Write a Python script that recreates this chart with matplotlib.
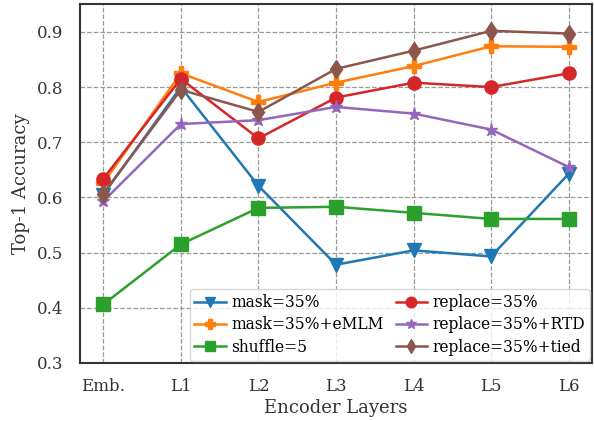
import matplotlib
matplotlib.use("Agg")
import matplotlib.pyplot as plt

layers = ["Emb.", "L1", "L2", "L3", "L4", "L5", "L6"]

mask35 = [0.605, 0.800, 0.621, 0.478, 0.504, 0.493, 0.643]
mask35_emlm = [0.626, 0.825, 0.773, 0.808, 0.838, 0.874, 0.873]
shuffle5 = [0.406, 0.515, 0.581, 0.583, 0.572, 0.561, 0.561]
replace35 = [0.634, 0.815, 0.707, 0.781, 0.808, 0.800, 0.825]
replace35_rtd = [0.593, 0.733, 0.740, 0.764, 0.752, 0.723, 0.655]
replace35_tied = [0.607, 0.795, 0.755, 0.833, 0.866, 0.902, 0.897]

series = [
    ("mask=35%", mask35, "#1f77b4", "v"),
    ("mask=35%+eMLM", mask35_emlm, "#ff7f0e", "P"),
    ("shuffle=5", shuffle5, "#2ca02c", "s"),
    ("replace=35%", replace35, "#d62728", "o"),
    ("replace=35%+RTD", replace35_rtd, "#9467bd", "*"),
    ("replace=35%+tied", replace35_tied, "#8c564b", "d"),
]

plt.rcParams["font.family"] = ["DejaVu Serif"]

fig = plt.figure(figsize=(5.94, 4.21), dpi=100)
ax = fig.add_axes([0.1347, 0.138, 0.862, 0.853])

x = list(range(len(layers)))
for label, vals, color, marker in series:
    ax.plot(x, vals, color=color, marker=marker, markersize=9.5, linewidth=1.8,
            label=label)

ax.set_xlim(-0.3, 6.3)
ax.set_ylim(0.3, 0.951)
ax.set_yticks([0.3, 0.4, 0.5, 0.6, 0.7, 0.8, 0.9])
ax.set_xticks(x)
ax.set_xticklabels(layers)
ax.tick_params(axis="both", length=0, labelsize=12, colors="#333333")
ax.tick_params(axis="y", pad=12)
ax.tick_params(axis="x", pad=11)
ax.grid(True, linestyle="--", color="#999999", linewidth=0.9)
for s in ax.spines.values():
    s.set_color("#333333")
    s.set_linewidth(1.5)

ax.set_xlabel("Encoder Layers", fontsize=13, color="#333333", labelpad=3)
ax.set_ylabel("Top-1 Accuracy", fontsize=13, color="#333333", labelpad=5)

ax.legend(ncol=2, loc="lower right", fontsize=11.2, frameon=True,
          handlelength=2.0, columnspacing=0.8, labelspacing=0.35,
          borderpad=0.3, handletextpad=0.35, markerscale=0.8,
          borderaxespad=0.15, edgecolor="#cccccc")

fig.savefig("out.png", dpi=100)
